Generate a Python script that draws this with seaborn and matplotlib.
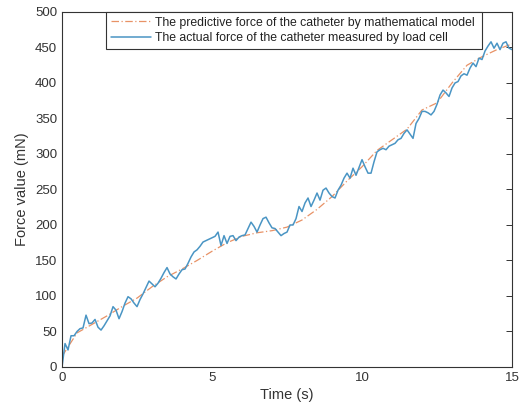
import numpy as np
import pandas as pd
import seaborn as sns
import matplotlib.pyplot as plt

# measured force (load cell), sampled every 0.1 s
time_measured = [round(0.1 * i, 1) for i in range(151)]
force_measured = [
    0, 33, 24, 44, 44, 50, 54, 55, 73, 61,
    62, 67, 56, 52, 58, 65, 72, 85, 80, 68,
    78, 90, 99, 96, 90, 85, 95, 103, 112, 121,
    117, 113, 118, 125, 133, 140, 131, 127, 124, 131,
    137, 138, 146, 155, 162, 165, 170, 176, 178, 180,
    182, 184, 190, 171, 185, 174, 184, 185, 178, 183,
    185, 186, 195, 204, 198, 190, 200, 209, 211, 203,
    196, 195, 190, 185, 188, 190, 200, 200, 209, 226,
    219, 231, 238, 226, 235, 245, 235, 249, 252, 245,
    240, 238, 249, 256, 266, 273, 266, 280, 270, 281,
    292, 282, 273, 273, 289, 303, 306, 308, 306, 311,
    313, 315, 320, 322, 329, 334, 328, 322, 343, 350,
    360, 360, 358, 355, 360, 370, 383, 390, 386, 381,
    393, 400, 402, 410, 413, 411, 421, 428, 423, 435,
    433, 445, 452, 458, 449, 456, 447, 456, 458, 449,
    447,
]

# predicted force (mathematical model), every 0.5 s
time_model = [0.5 * i for i in range(31)]
force_model = [
    15, 48, 60, 72, 85, 97, 113, 127, 138, 150,
    163, 175, 184, 189, 192, 197, 207, 222, 240, 262,
    282, 305, 320, 335, 362, 372, 400, 425, 437, 447,
    455,
]

label_model = "The predictive force of the catheter by mathematical model"
label_measured = "The actual force of the catheter measured by load cell"

df_model = pd.DataFrame({"Time": time_model, "Force": force_model})
df_meas = pd.DataFrame({"Time": time_measured, "Force": force_measured})

sns.set_theme(style="white")
plt.rcParams["font.family"] = ["Liberation Sans", "DejaVu Sans"]

fig = plt.figure(figsize=(5.23, 4.13), dpi=100)
ax = fig.add_axes([0.1186, 0.1114, 0.8604, 0.8596])

sns.lineplot(data=df_model, x="Time", y="Force", ax=ax, color="#e89266",
             linestyle=(0, (6, 2, 1, 2)), linewidth=0.9, label=label_model)
sns.lineplot(data=df_meas, x="Time", y="Force", ax=ax, color="#4a95c4",
             linewidth=1.1, label=label_measured)

ax.set_xlim(0, 15)
ax.set_ylim(0, 500)
ax.set_xticks([0, 5, 10, 15])
ax.set_yticks(np.arange(0, 501, 50))
ax.set_xlabel("Time (s)", fontsize=10.5, color="#333333", labelpad=3)
ax.set_ylabel("Force value (mN)", fontsize=10.5, color="#333333", labelpad=4)
ax.tick_params(direction="in", length=4, width=0.7, colors="#333333",
               labelsize=9.5, top=True, right=True)
for s in ax.spines.values():
    s.set_visible(True)
    s.set_color("#333333")
    s.set_linewidth(0.8)

# legend box flush with the top, ending a little short of the right edge
leg = ax.legend(loc="upper right", bbox_to_anchor=(0.098, 0.0, 0.836, 1.0),
                mode="expand", borderaxespad=0, fontsize=8.8,
                handlelength=3.3, handletextpad=0.35, fancybox=False,
                framealpha=1, edgecolor="#333333", borderpad=0.38,
                labelspacing=0.28)
leg.get_frame().set_linewidth(0.8)
for t in leg.get_texts():
    t.set_color("#222222")

fig.savefig("out.png", dpi=100)
